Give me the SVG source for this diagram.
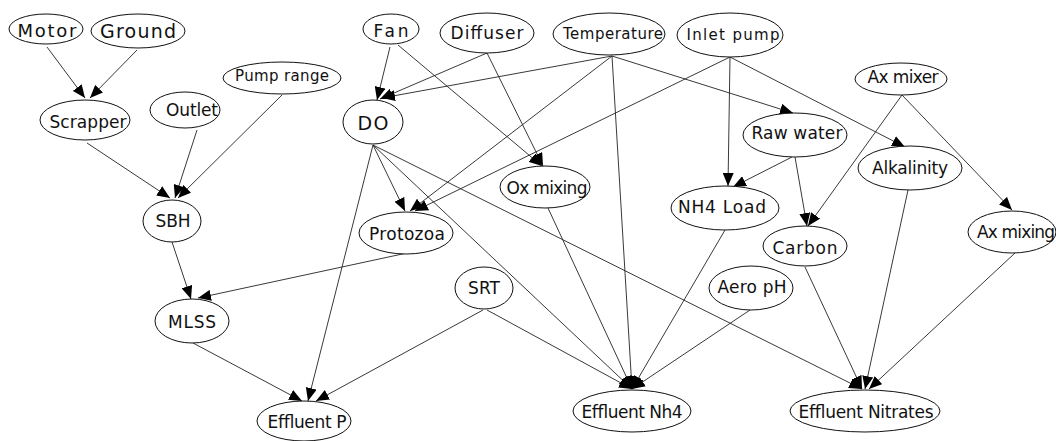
<svg xmlns="http://www.w3.org/2000/svg" width="1056" height="441" viewBox="0 0 1056 441">
<style>
.n ellipse{fill:#fff;stroke:#111;stroke-width:1}
.n text{font-family:"DejaVu Sans",sans-serif;font-size:17px;fill:#111;text-anchor:middle;dominant-baseline:central}
.e line{stroke:#222;stroke-width:0.9;marker-end:url(#a)}
</style>
<defs>
<marker id="a" markerWidth="14" markerHeight="11" refX="13" refY="5.5" orient="auto" markerUnits="userSpaceOnUse"><path d="M0,0 L13,5.5 L0,11 z" fill="#000"/></marker>
</defs>
<rect width="1056" height="441" fill="#fff"/>
<g id="connectors" class="e">
<line x1="47" y1="47" x2="85" y2="98"/>
<line x1="137" y1="50" x2="90" y2="98"/>
<line x1="87" y1="143" x2="170" y2="198"/>
<line x1="197" y1="130" x2="175" y2="198"/>
<line x1="282" y1="95" x2="178" y2="198"/>
<line x1="172" y1="242" x2="191" y2="299"/>
<line x1="407" y1="253" x2="198" y2="298"/>
<line x1="193" y1="343" x2="302" y2="401"/>
<line x1="373" y1="145" x2="308" y2="401"/>
<line x1="483" y1="310" x2="316" y2="401"/>
<line x1="390" y1="47" x2="377" y2="100"/>
<line x1="487" y1="53" x2="380" y2="99"/>
<line x1="612" y1="56" x2="382" y2="98"/>
<line x1="398" y1="45" x2="542" y2="166"/>
<line x1="487" y1="53" x2="543" y2="166"/>
<line x1="373" y1="145" x2="405" y2="211"/>
<line x1="612" y1="56" x2="410" y2="211"/>
<line x1="730" y1="57" x2="415" y2="211"/>
<line x1="373" y1="145" x2="632" y2="389"/>
<line x1="373" y1="145" x2="862" y2="389"/>
<line x1="612" y1="56" x2="793" y2="113"/>
<line x1="612" y1="56" x2="632" y2="389"/>
<line x1="730" y1="57" x2="728" y2="186"/>
<line x1="730" y1="57" x2="905" y2="147"/>
<line x1="792" y1="157" x2="733" y2="187"/>
<line x1="795" y1="157" x2="807" y2="226"/>
<line x1="902" y1="95" x2="808" y2="226"/>
<line x1="902" y1="95" x2="1012" y2="210"/>
<line x1="548" y1="208" x2="632" y2="389"/>
<line x1="725" y1="230" x2="632" y2="389"/>
<line x1="750" y1="310" x2="632" y2="389"/>
<line x1="487" y1="310" x2="632" y2="389"/>
<line x1="805" y1="267" x2="862" y2="389"/>
<line x1="908" y1="190" x2="865" y2="389"/>
<line x1="1015" y1="253" x2="869" y2="389"/>
</g>
<g id="motor" class="n"><ellipse cx="46" cy="29" rx="37" ry="15"/><text x="47" y="30" style="font-size:18px" textLength="59">Motor</text></g>
<g id="ground" class="n"><ellipse cx="138" cy="31" rx="47" ry="17"/><text x="138" y="31" style="font-size:19px" textLength="76">Ground</text></g>
<g id="pump-range" class="n"><ellipse cx="282" cy="78" rx="59" ry="16"/><text x="282" y="76" style="font-size:15px" textLength="94">Pump range</text></g>
<g id="scrapper" class="n"><ellipse cx="85" cy="120" rx="45" ry="20"/><text x="88" y="122" textLength="77">Scrapper</text></g>
<g id="outlet" class="n"><ellipse cx="185" cy="110" rx="35" ry="18"/><text x="192" y="110" textLength="52">Outlet</text></g>
<g id="sbh" class="n"><ellipse cx="172" cy="221" rx="29" ry="21"/><text x="173" y="221" textLength="35">SBH</text></g>
<g id="mlss" class="n"><ellipse cx="192" cy="321" rx="37" ry="22"/><text x="192" y="322" textLength="48">MLSS</text></g>
<g id="effluent-p" class="n"><ellipse cx="304" cy="421" rx="47" ry="20"/><text x="307" y="422" textLength="79">Effluent P</text></g>
<g id="fan" class="n"><ellipse cx="391" cy="29" rx="28" ry="15"/><text x="391" y="31" textLength="35">Fan</text></g>
<g id="diffuser" class="n"><ellipse cx="487" cy="33" rx="47" ry="20"/><text x="487" y="33" textLength="73">Diffuser</text></g>
<g id="temperature" class="n"><ellipse cx="609" cy="34" rx="56" ry="21"/><text x="613" y="34" style="font-size:15px" textLength="100">Temperature</text></g>
<g id="inlet-pump" class="n"><ellipse cx="730" cy="35" rx="53" ry="22"/><text x="733" y="35" style="font-size:15px" textLength="93">Inlet pump</text></g>
<g id="ax-mixer" class="n"><ellipse cx="901" cy="79" rx="46" ry="16"/><text x="903" y="77" textLength="71">Ax mixer</text></g>
<g id="do" class="n"><ellipse cx="373" cy="122" rx="30" ry="22"/><text x="373" y="123" style="font-size:19px" textLength="31">DO</text></g>
<g id="raw-water" class="n"><ellipse cx="795" cy="135" rx="52" ry="22"/><text x="797" y="133" textLength="91">Raw water</text></g>
<g id="ox-mixing" class="n"><ellipse cx="545" cy="187" rx="45" ry="21"/><text x="547" y="188" textLength="81">Ox mixing</text></g>
<g id="alkalinity" class="n"><ellipse cx="910" cy="168" rx="52" ry="22"/><text x="910" y="168" textLength="76">Alkalinity</text></g>
<g id="nh4-load" class="n"><ellipse cx="725" cy="208" rx="54" ry="22"/><text x="722" y="207" textLength="88">NH4 Load</text></g>
<g id="protozoa" class="n"><ellipse cx="406" cy="233" rx="47" ry="21"/><text x="407" y="234" textLength="76">Protozoa</text></g>
<g id="carbon" class="n"><ellipse cx="805" cy="246" rx="42" ry="20"/><text x="805" y="248" textLength="65">Carbon</text></g>
<g id="ax-mixing" class="n"><ellipse cx="1012" cy="232" rx="44" ry="21"/><text x="1016" y="232" textLength="78">Ax mixing</text></g>
<g id="aero-ph" class="n"><ellipse cx="751" cy="288" rx="42" ry="22"/><text x="752" y="287" textLength="69">Aero pH</text></g>
<g id="srt" class="n"><ellipse cx="484" cy="288" rx="29" ry="21"/><text x="484" y="288" textLength="32">SRT</text></g>
<g id="effluent-nh4" class="n"><ellipse cx="632" cy="411" rx="59" ry="21"/><text x="632" y="412" textLength="101">Effluent Nh4</text></g>
<g id="effluent-nitrates" class="n"><ellipse cx="865" cy="411" rx="75" ry="21"/><text x="866" y="412" textLength="135">Effluent Nitrates</text></g>
</svg>
